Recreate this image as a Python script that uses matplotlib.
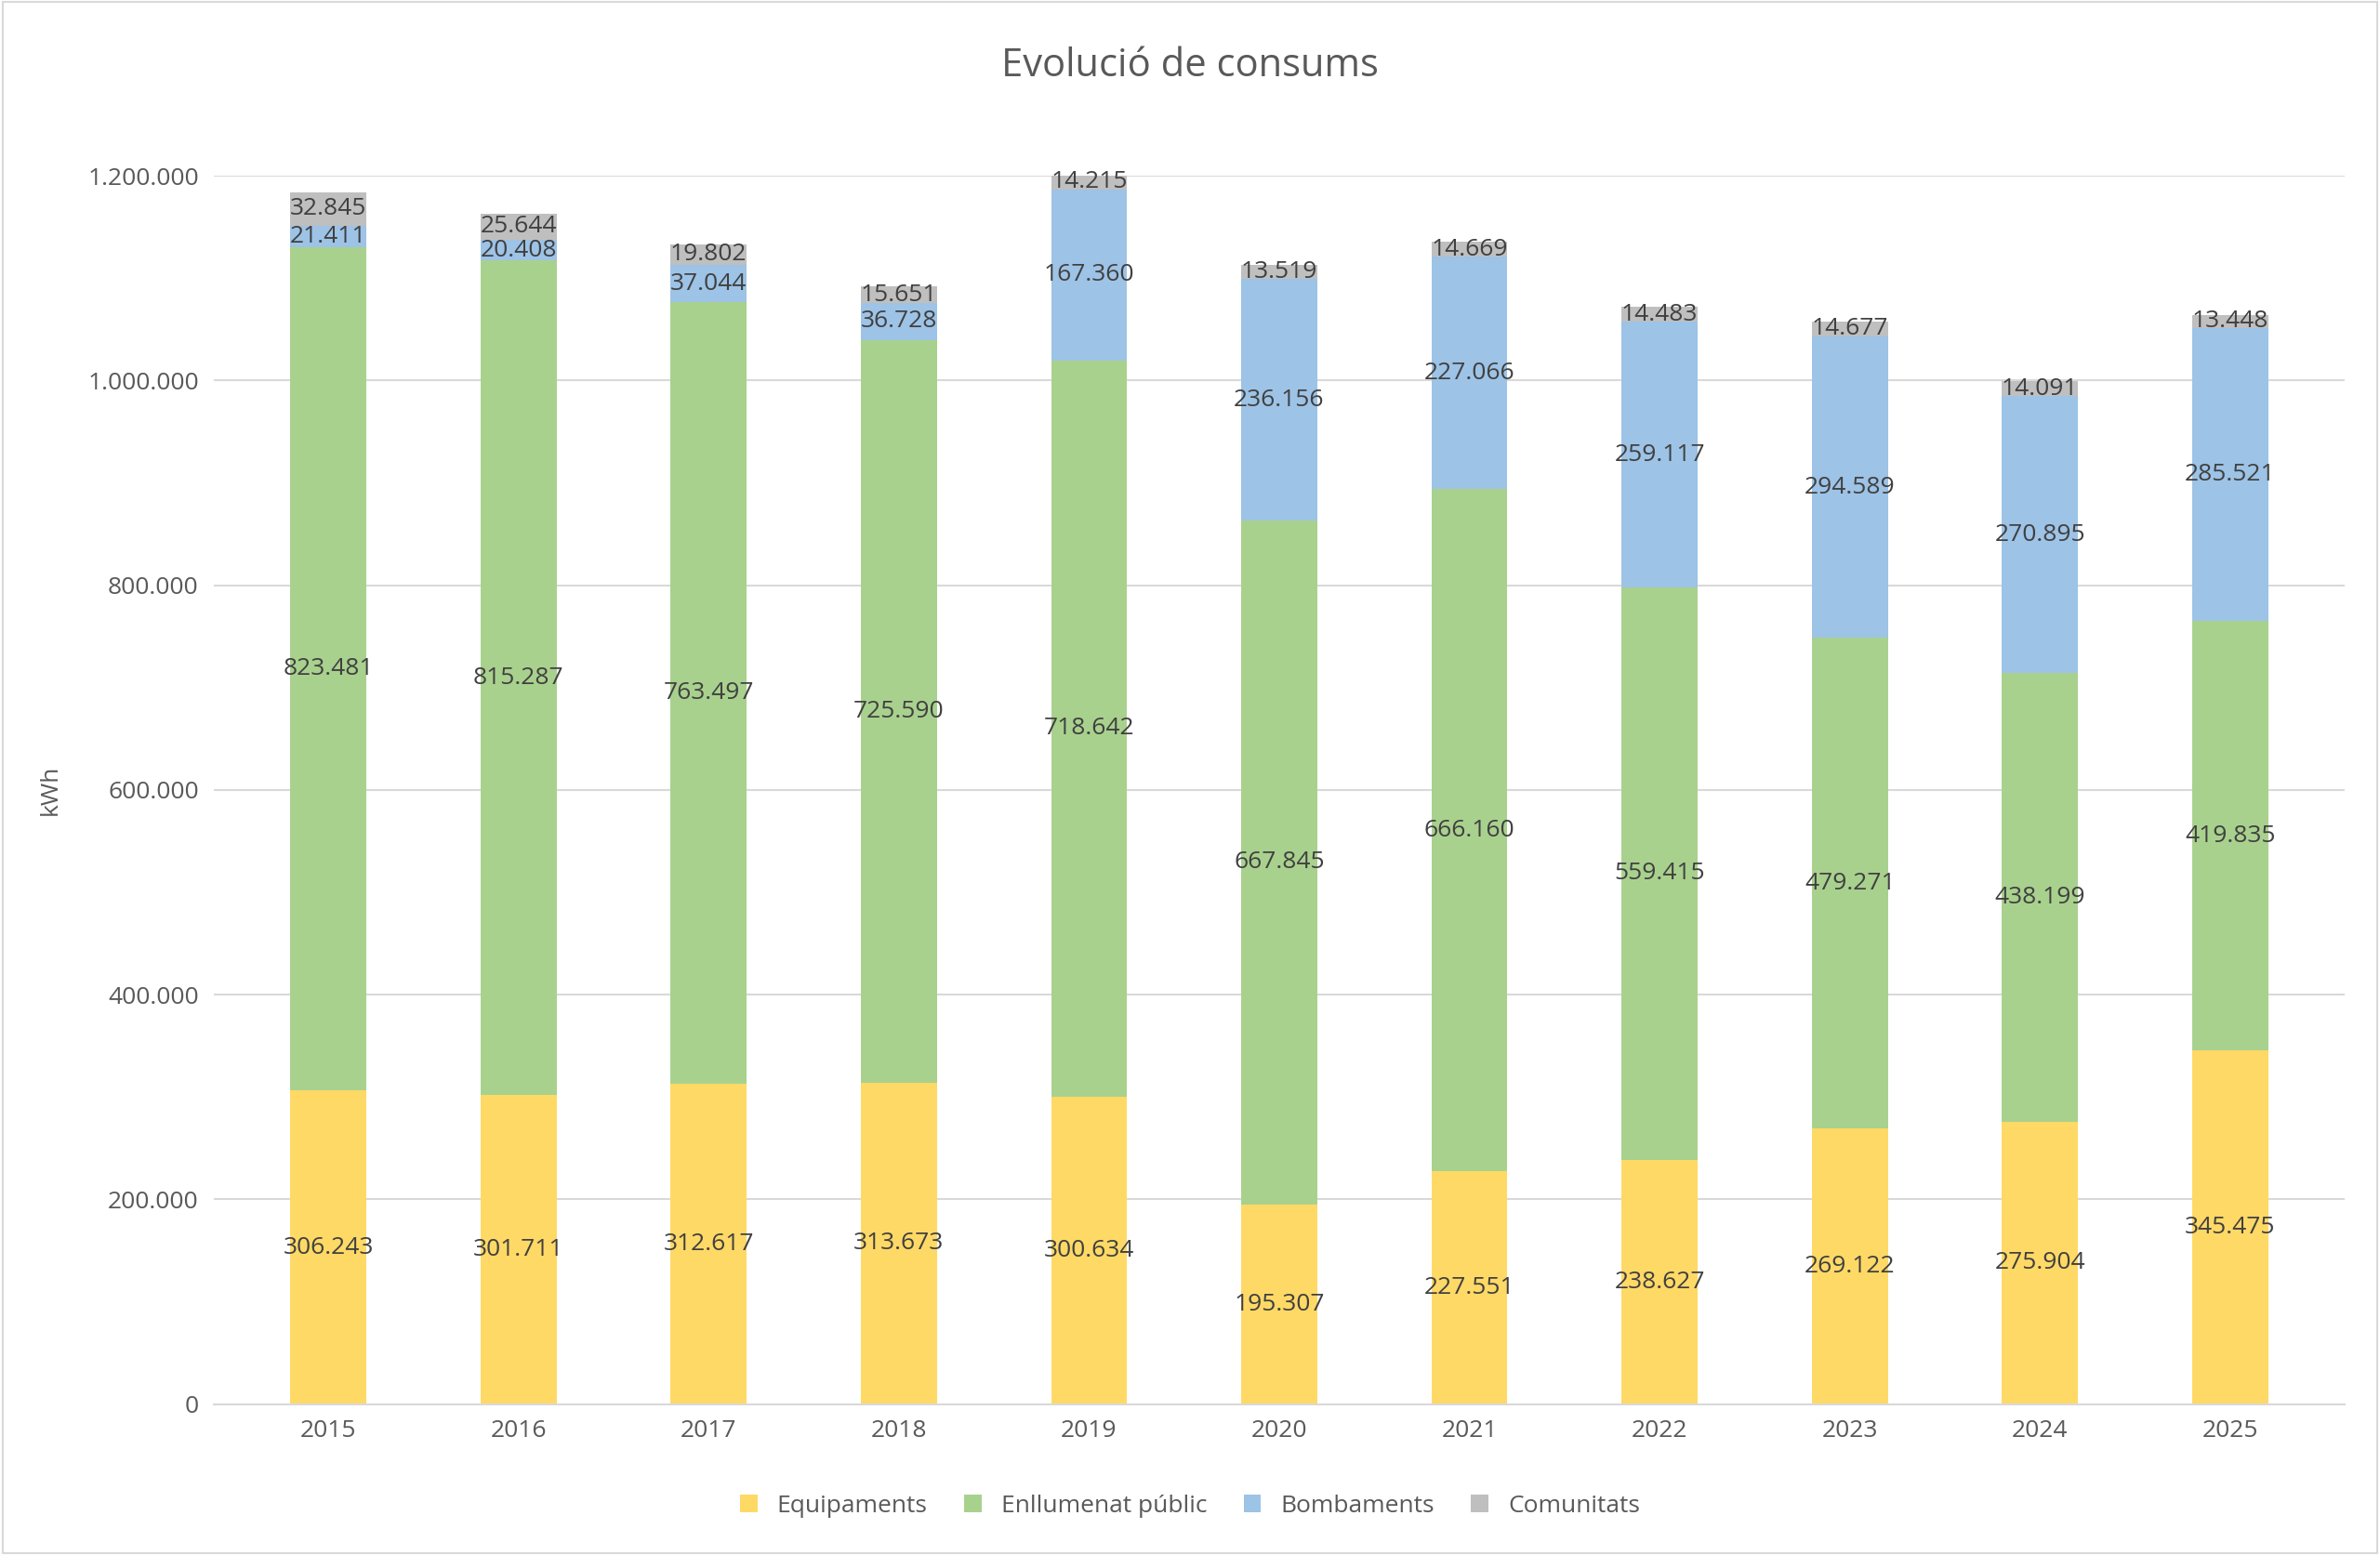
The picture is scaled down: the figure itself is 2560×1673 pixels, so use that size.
import matplotlib as mp
import matplotlib.pyplot as plt

years = ["2015", "2016", "2017", "2018", "2019", "2020", "2021", "2022", "2023", "2024", "2025"]
equipaments = [306243, 301711, 312617, 313673, 300634, 195307, 227551, 238627, 269122, 275904, 345475]
enllumenat = [823481, 815287, 763497, 725590, 718642, 667845, 666160, 559415, 479271, 438199, 419835]
bombaments = [21411, 20408, 37044, 36728, 167360, 236156, 227066, 259117, 294589, 270895, 285521]
comunitats = [32845, 25644, 19802, 15651, 14215, 13519, 14669, 14483, 14677, 14091, 13448]

series_names = ["Equipaments", "Enllumenat públic", "Bombaments", "Comunitats"]
colors = ["#FFD966", "#A9D18E", "#9DC3E6", "#BFBFBF"]

plt.rcParams["font.family"] = ["Open Sans", "DejaVu Sans"]


def fmt(v):
    return f"{v:,.0f}".replace(",", ".")


fig = plt.figure(figsize=(25.6, 16.73), dpi=100)
ax = fig.add_axes([0.09, 0.097, 0.895, 0.79])
fig.patches.append(mp.patches.Rectangle((0.001, 0.001), 0.998, 0.998, transform=fig.transFigure,
                                        fill=False, edgecolor="#D9D9D9", linewidth=1.5))

x = range(len(years))
bottom = [0] * len(years)
for name, vals, col in zip(series_names, [equipaments, enllumenat, bombaments, comunitats], colors):
    ax.bar(x, vals, 0.4, bottom=bottom, color=col, label=name, zorder=2)
    for i, v in enumerate(vals):
        ax.text(i, bottom[i] + v / 2, fmt(v), ha="center", va="center", fontsize=19, color="#404040", zorder=3)
    bottom = [b + v for b, v in zip(bottom, vals)]

ax.set_ylim(0, 1200000)
ax.set_xlim(-0.6, len(years) - 0.4)
ax.set_yticks(range(0, 1200001, 200000))
ax.set_yticklabels([fmt(v) for v in range(0, 1200001, 200000)])
ax.set_xticks(list(x))
ax.set_xticklabels(years)
ax.tick_params(labelsize=19, colors="#595959", length=0, pad=12)
ax.grid(axis="y", color="#D9D9D9", linewidth=1.5, zorder=0)
for side in ["top", "right", "left"]:
    ax.spines[side].set_visible(False)
ax.spines["bottom"].set_color("#D9D9D9")
ax.spines["bottom"].set_linewidth(1.5)
ax.set_ylabel("kWh", fontsize=19, color="#595959", labelpad=20)
fig.suptitle("Evolució de consums", fontsize=30, color="#595959", y=0.97)
fig.legend(loc="lower center", ncol=4, frameon=False, fontsize=19, handlelength=0.7, handleheight=0.7,
           bbox_to_anchor=(0.5, 0.01), labelcolor="#595959", columnspacing=1.5)

fig.savefig("out.png", dpi=100)
